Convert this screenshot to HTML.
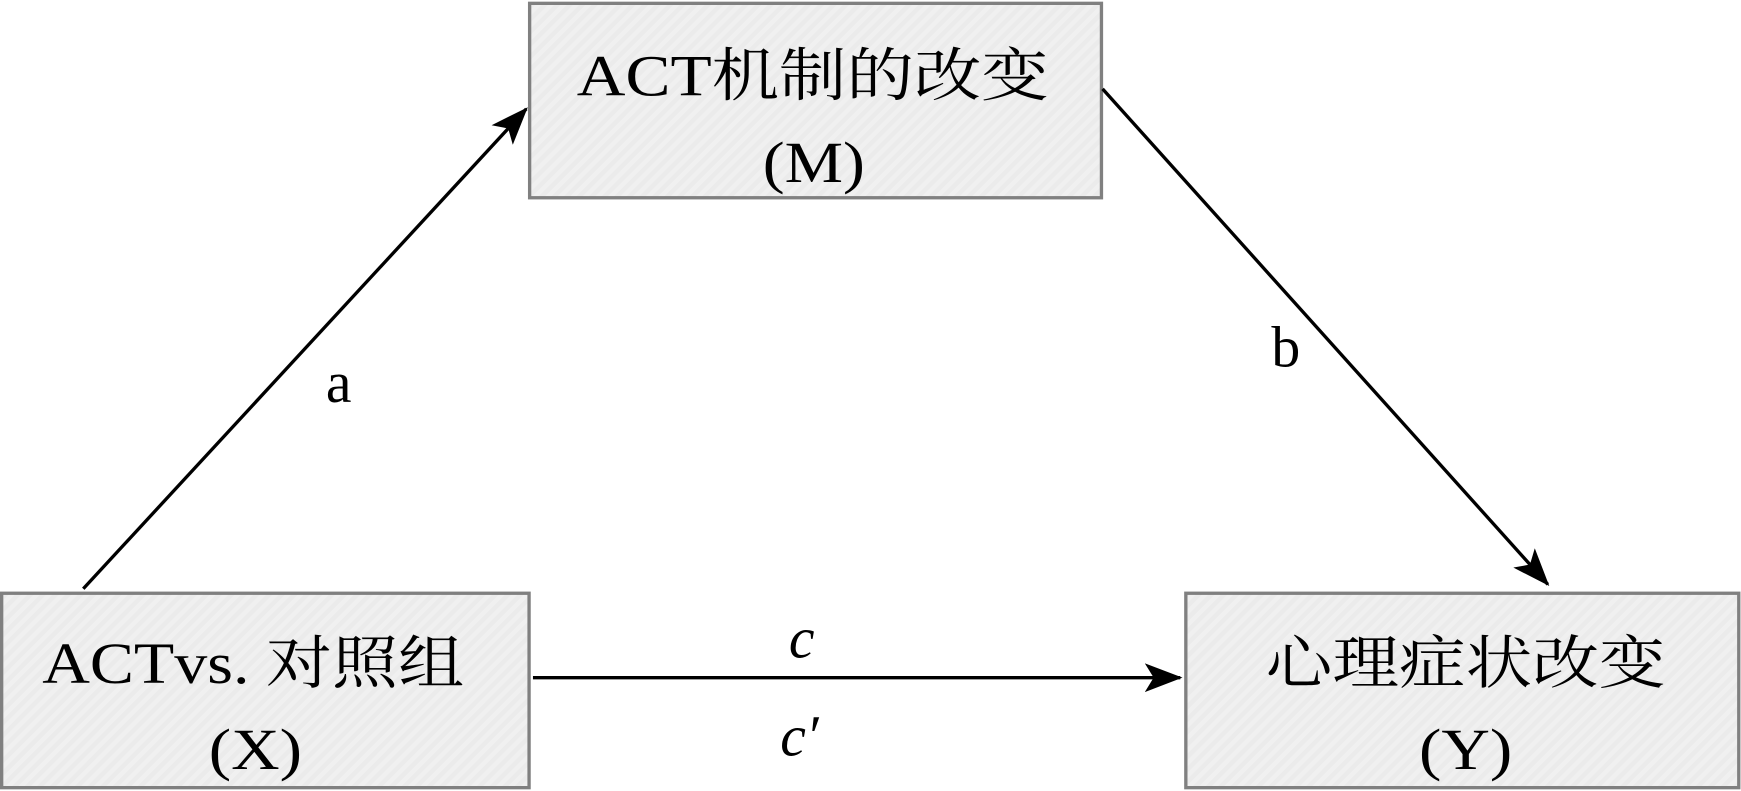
<!DOCTYPE html>
<html><head><meta charset="utf-8"><style>
html,body{margin:0;padding:0;background:#fff;width:1741px;height:791px;overflow:hidden}
svg{display:block}
text{font-family:"Liberation Serif","Noto Serif CJK SC",serif;font-size:52px;fill:#000;text-anchor:middle}
</style></head><body>
<svg width="1741" height="791" viewBox="0 0 1568 712" preserveAspectRatio="none">
<defs>
<pattern id="h" width="8" height="8" patternUnits="userSpaceOnUse" patternTransform="rotate(45)">
<rect width="8" height="8" fill="#ebebeb"/><rect width="4" height="8" fill="#f0f0f0"/>
</pattern>
<marker id="ar" viewBox="0 0 34 26" refX="32" refY="13" markerWidth="34" markerHeight="26" markerUnits="userSpaceOnUse" orient="auto">
<path d="M0,0 L34,13 L0,26 L8,13 Z" fill="#000"/>
</marker>
</defs>
<rect x="477" y="3" width="515" height="175" fill="url(#h)" stroke="#808080" stroke-width="3"/>
<rect x="1.5" y="534" width="475" height="175" fill="url(#h)" stroke="#808080" stroke-width="3"/>
<rect x="1068" y="534" width="498" height="175" fill="url(#h)" stroke="#808080" stroke-width="3"/>
<line x1="75" y1="530" x2="474" y2="98" stroke="#000" stroke-width="3" marker-end="url(#ar)"/>
<line x1="993" y1="80" x2="1394" y2="526" stroke="#000" stroke-width="3" marker-end="url(#ar)"/>
<line x1="480" y1="610" x2="1063" y2="610" stroke="#000" stroke-width="3" marker-end="url(#ar)"/>
<text x="732" y="86" textLength="425" lengthAdjust="spacingAndGlyphs">ACT机制的改变</text>
<text x="733" y="164" textLength="92" lengthAdjust="spacingAndGlyphs">(M)</text>
<text x="228" y="615" textLength="380" lengthAdjust="spacingAndGlyphs">ACTvs. 对照组</text>
<text x="230" y="692" textLength="84" lengthAdjust="spacingAndGlyphs">(X)</text>
<text x="1320" y="615" textLength="360" lengthAdjust="spacingAndGlyphs">心理症状改变</text>
<text x="1320" y="692" textLength="84" lengthAdjust="spacingAndGlyphs">(Y)</text>
<text x="305" y="362">a</text>
<text x="1158" y="330">b</text>
<text x="722" y="592" font-style="italic">c</text>
<text x="720" y="680" font-style="italic">c′</text>
</svg>
</body></html>
